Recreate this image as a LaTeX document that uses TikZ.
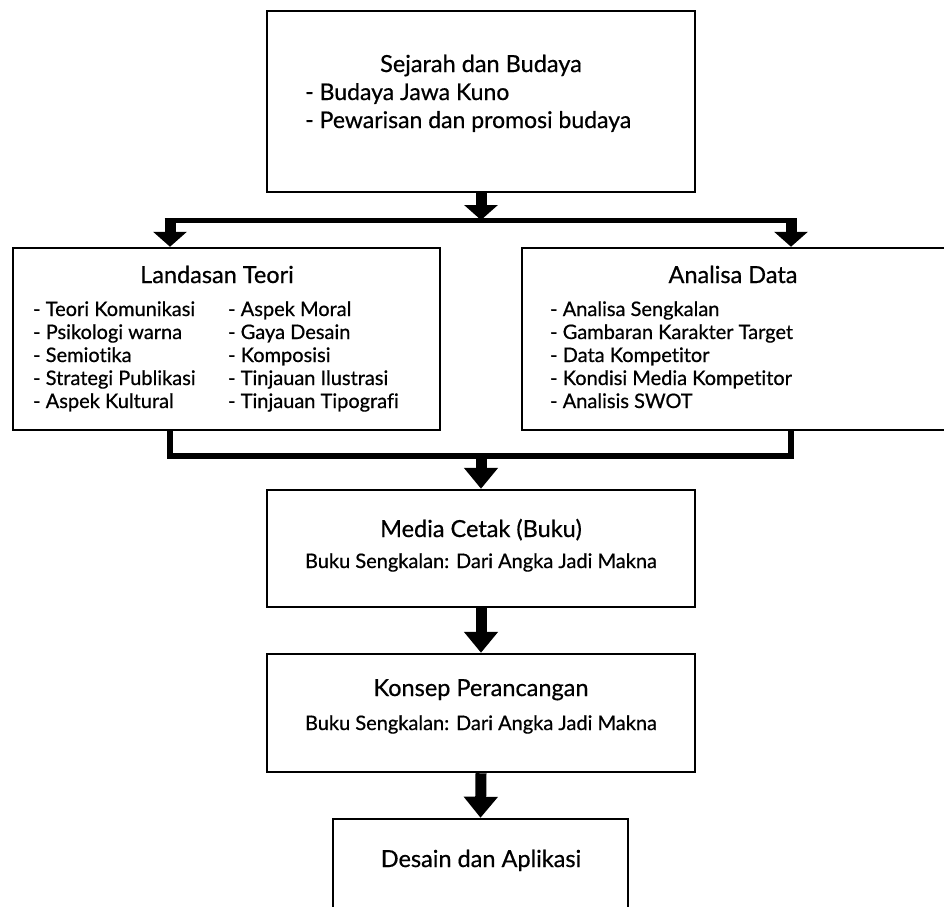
\documentclass[tikz,border=0pt]{standalone}
\usepackage{fontspec}
\setmainfont{Lato}[FakeBold=0.6, Ligatures=NoCommon]
\usetikzlibrary{arrows.meta}
\begin{document}
\begin{tikzpicture}[x=1pt,y=-1pt,
  box/.style={draw, line width=2.5pt, rectangle, inner sep=0pt},
  ttl/.style={anchor=base, inner sep=0pt, font=\fontsize{23.5}{28}\selectfont},
  itmtop/.style={anchor=base west, inner sep=0pt, font=\fontsize{23}{27}\selectfont},
  itm/.style={anchor=base west, inner sep=0pt, font=\fontsize{20}{24}\selectfont},
  sub/.style={anchor=base, inner sep=0pt, font=\fontsize{20}{24}\selectfont},
  bar/.style={line width=5pt},
  barb/.style={line width=6pt, line join=miter},
  arrA/.style={line width=11pt, -{Triangle[width=33pt,length=15pt]}},
  arrB/.style={line width=11pt, -{Triangle[width=33pt,length=21pt]}}
]
\useasboundingbox (0,0) rectangle (944,906);
\begin{scope}
\clip (0,0) rectangle (944,906);
\fill[white] (0,0) rectangle (944,906);

% boxes
\node[box, minimum width=428pt, minimum height=181pt] (sej) at (481,101.5) {};
\node[box, minimum width=427pt, minimum height=182pt] (lan) at (226.5,339) {};
\node[box, minimum width=440pt, minimum height=182pt] (ana) at (742,339) {};
\node[box, minimum width=428pt, minimum height=117pt] (med) at (481,548.5) {};
\node[box, minimum width=428pt, minimum height=118pt] (kon) at (481,713) {};
\node[box, minimum width=295pt, minimum height=121pt] (des) at (480.5,879.5) {};

% texts
\node[ttl] (sejT) at (481,72) {Sejarah dan Budaya};
\node[itmtop] (sej1) at (305,100) {- Budaya Jawa Kuno};
\node[itmtop] (sej2) at (305,128) {- Pewarisan dan promosi budaya};

\node[ttl] (lanT) at (217,283) {Landasan Teori};
\node[itm] (lanA1) at (33,316) {- Teori Komunikasi};
\node[itm] (lanA2) at (33,339) {- Psikologi warna};
\node[itm] (lanA3) at (33,362) {- Semiotika};
\node[itm] (lanA4) at (33,385) {- Strategi Publikasi};
\node[itm] (lanA5) at (33,408) {- Aspek Kultural};
\node[itm] (lanB1) at (228,316) {- Aspek Moral};
\node[itm] (lanB2) at (228,339) {- Gaya Desain};
\node[itm] (lanB3) at (228,362) {- Komposisi};
\node[itm] (lanB4) at (228,385) {- Tinjauan Ilustrasi};
\node[itm] (lanB5) at (228,408) {- Tinjauan Tipografi};

\node[ttl] (anaT) at (733,283) {Analisa Data};
\node[itm] (ana1) at (550,316) {- Analisa Sengkalan};
\node[itm] (ana2) at (550,339) {- Gambaran Karakter Target};
\node[itm] (ana3) at (550,362) {- Data Kompetitor};
\node[itm] (ana4) at (550,385) {- Kondisi Media Kompetitor};
\node[itm] (ana5) at (550,408) {- Analisis SWOT};

\node[ttl] (medT) at (481,537) {Media Cetak (Buku)};
\node[sub] (medS) at (481,568) {Buku Sengkalan: Dari Angka Jadi Makna};
\node[ttl] (konT) at (481,696) {Konsep Perancangan};
\node[sub] (konS) at (481,730) {Buku Sengkalan: Dari Angka Jadi Makna};
\node[ttl] (desT) at (481,867) {Desain dan Aplikasi};

% connectors
\coordinate (hl) at (170,220);
\coordinate (hr) at (791,220);
\coordinate (bl) at (170,456);
\coordinate (br) at (791,456);

\draw[bar] ([xshift=-5.5pt]hl) -- ([xshift=5.5pt]hr);
\draw[arrA] (sej.south) -- (sej.south |- hl);
\draw[arrA] (hl) -- (hl |- lan.north);
\draw[arrA] (hr) -- (hr |- ana.north);
\draw[barb] (bl |- lan.south) -- (bl) -- (br) -- (br |- ana.south);
\draw[arrB] (med.north |- bl) -- (med.north);
\draw[arrB] (med.south) -- (kon.north);
\draw[arrB] (kon.south) -- (des.north);
\end{scope}
\end{tikzpicture}
\end{document}
